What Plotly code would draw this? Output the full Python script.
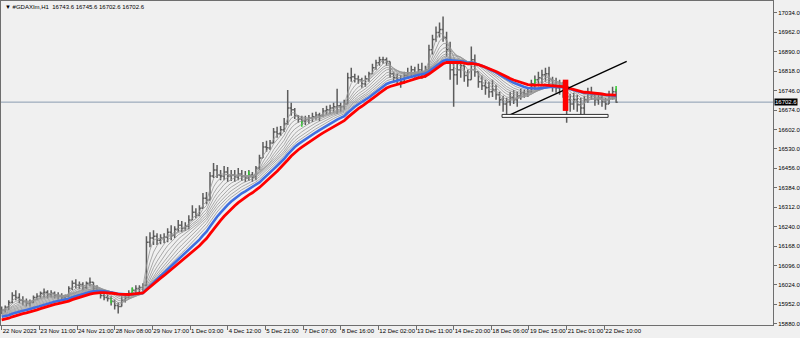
import plotly.graph_objects as go

title_text = "▼ #GDAXIm,H1  16743.6 16745.6 16702.6 16702.6"

# bar positions in H1-bar units (each plotted bar aggregates 3 hourly bars)
bar_index = list(range(0, 523, 3))

high = [
    15944, 15948, 15967, 15997, 16004, 15993, 15982, 15974, 15970, 15985,
    15993, 16000, 16011, 16004, 16004, 16000, 15997, 15993, 15989, 16019,
    16041, 16045, 16037, 16034, 16037, 16052, 16034, 16023, 16004, 15993,
    15989, 15982, 15970, 15959, 15982, 15993, 16004, 16015, 16023, 16023,
    16030, 16205, 16220, 16227, 16216, 16212, 16216, 16235, 16246, 16242,
    16265, 16261, 16257, 16283, 16320, 16309, 16320, 16365, 16369, 16443,
    16477, 16469, 16451, 16466, 16462, 16451, 16451, 16458, 16451, 16447,
    16451, 16443, 16466, 16507, 16555, 16559, 16562, 16607, 16611, 16614,
    16644, 16748, 16700, 16681, 16655, 16652, 16652, 16655, 16663, 16667,
    16663, 16681, 16689, 16693, 16700, 16752, 16700, 16711, 16812, 16830,
    16808, 16801, 16793, 16801, 16815, 16845, 16860, 16871, 16871, 16868,
    16853, 16815, 16808, 16804, 16815, 16830, 16838, 16834, 16845, 16849,
    16838, 16916, 16953, 16983, 16998, 17020, 16964, 16927, 16860, 16860,
    16860, 16842, 16823, 16909, 16879, 16815, 16801, 16786, 16778, 16786,
    16767, 16741, 16726, 16719, 16741, 16748, 16741, 16752, 16748, 16752,
    16786, 16801, 16815, 16823, 16830, 16834, 16797, 16793, 16786, 16778,
    16748, 16734, 16737, 16730, 16719, 16726, 16756, 16760, 16737, 16734,
    16730, 16719, 16745, 16760, 16752,
]
low = [
    15915, 15922, 15930, 15956, 15967, 15956, 15948, 15944, 15944, 15956,
    15967, 15974, 15978, 15974, 15978, 15974, 15970, 15967, 15967, 15978,
    16004, 16011, 16008, 16004, 16008, 16019, 16000, 15993, 15974, 15967,
    15963, 15948, 15933, 15918, 15944, 15959, 15974, 15985, 15993, 15997,
    16000, 16019, 16164, 16172, 16172, 16175, 16179, 16183, 16190, 16198,
    16220, 16220, 16224, 16231, 16265, 16272, 16279, 16309, 16324, 16339,
    16421, 16421, 16413, 16413, 16406, 16410, 16406, 16413, 16410, 16406,
    16410, 16406, 16413, 16451, 16495, 16518, 16525, 16551, 16570, 16577,
    16592, 16618, 16652, 16640, 16626, 16618, 16618, 16622, 16629, 16637,
    16633, 16648, 16655, 16659, 16663, 16659, 16667, 16674, 16696, 16778,
    16775, 16771, 16756, 16760, 16778, 16808, 16823, 16838, 16845, 16838,
    16793, 16775, 16767, 16756, 16771, 16789, 16797, 16793, 16797, 16789,
    16793, 16815, 16879, 16927, 16942, 16927, 16871, 16786, 16685, 16767,
    16793, 16778, 16760, 16786, 16797, 16756, 16748, 16730, 16719, 16722,
    16711, 16689, 16667, 16648, 16689, 16696, 16685, 16711, 16719, 16722,
    16737, 16748, 16763, 16771, 16778, 16767, 16741, 16737, 16730, 16719,
    16626, 16667, 16674, 16667, 16648, 16659, 16700, 16711, 16689, 16693,
    16685, 16674, 16696, 16711, 16700,
]
close = [
    15930, 15941, 15959, 15985, 15978, 15967, 15963, 15956, 15959, 15978,
    15982, 15993, 15997, 15989, 15993, 15985, 15982, 15978, 15982, 16011,
    16030, 16023, 16026, 16015, 16030, 16034, 16011, 16004, 15985, 15978,
    15974, 15963, 15948, 15944, 15967, 15978, 15993, 16004, 16011, 16015,
    16023, 16183, 16198, 16205, 16190, 16198, 16201, 16220, 16209, 16231,
    16246, 16235, 16242, 16265, 16294, 16283, 16309, 16346, 16339, 16428,
    16451, 16432, 16428, 16443, 16428, 16432, 16425, 16436, 16428, 16421,
    16432, 16425, 16458, 16495, 16536, 16533, 16551, 16592, 16585, 16600,
    16622, 16681, 16674, 16652, 16640, 16633, 16637, 16644, 16648, 16655,
    16652, 16670, 16674, 16681, 16685, 16689, 16685, 16696, 16793, 16797,
    16789, 16786, 16771, 16789, 16808, 16830, 16849, 16860, 16860, 16853,
    16808, 16793, 16786, 16778, 16801, 16812, 16823, 16808, 16823, 16815,
    16823, 16897, 16935, 16961, 16972, 16942, 16897, 16823, 16804, 16823,
    16838, 16801, 16786, 16860, 16815, 16778, 16763, 16756, 16741, 16748,
    16730, 16711, 16696, 16704, 16719, 16711, 16726, 16737, 16734, 16741,
    16771, 16786, 16793, 16804, 16808, 16786, 16767, 16756, 16763, 16748,
    16711, 16696, 16711, 16693, 16681, 16711, 16734, 16730, 16711, 16719,
    16704, 16696, 16726, 16741, 16702.6,
]
first_open = 15940
open_ = [first_open] + close[:-1]

# small green bar marks seen on the chart
green_index = [93, 111, 210, 255, 453, 522]
green_price = [15967, 16004, 16436, 16622, 16778, 16752]

# moving-average ribbon (linear weighted, periods in H1 bars); level of the
# history before the first visible bar, read at the left edge of the chart
gray_periods = [10, 18, 26, 34, 42, 50, 58, 66, 74]
gray_seeds = [15933, 15931, 15928, 15925, 15922, 15918, 15915, 15912, 15909]
blue_period, blue_seed = 84, 15904
red_period, red_seed = 100, 15892

date_labels = ["22 Nov 2023", "23 Nov 11:00", "24 Nov 21:00", "28 Nov 08:00",
               "29 Nov 17:00", "1 Dec 03:00", "4 Dec 12:00", "5 Dec 21:00",
               "7 Dec 07:00", "8 Dec 16:00", "12 Dec 02:00", "13 Dec 11:00",
               "14 Dec 20:00", "18 Dec 06:00", "19 Dec 15:00", "21 Dec 01:00",
               "22 Dec 10:00"]
date_label_index = [32 * i for i in range(len(date_labels))]

price_labels = ["15880.0", "15952.0", "16024.0", "16096.0", "16168.0", "16240.0",
                "16312.0", "16384.0", "16456.0", "16530.0", "16602.0", "16674.0",
                "16746.0", "16818.0", "16890.0", "16962.0", "17034.0"]
price_low, price_high = 15880.0, 17034.0

last_price = 16702.6
trend_index = [428.1, 531.0]
trend_price = [16648, 16854]
box_index = [425.1, 515.2]
box_price = [16646, 16657]
red_box_index = [476.7, 481.4]
red_box_price = [16670, 16786]

STEP = 3  # hourly bars per plotted bar


def lwma(values, period, seed):
    out = []
    for t in range(len(values)):
        num = den = 0.0
        age, j = 0, t
        while age < period:
            w = period - age
            v = values[j] if j >= 0 else seed
            num += w * v
            den += w
            age += STEP
            j -= 1
        out.append(num / den)
    return out


price_tickvals = [price_low + i * (price_high - price_low) / (len(price_labels) - 1)
                  for i in range(len(price_labels))]

fig = go.Figure()
fig.add_trace(go.Ohlc(
    x=bar_index, open=open_, high=high, low=low, close=close,
    increasing=dict(line=dict(color="#5c5c5c", width=1.5)),
    decreasing=dict(line=dict(color="#5c5c5c", width=1.5)),
    tickwidth=0.45, hoverinfo="skip",
))
fig.add_trace(go.Scatter(x=green_index, y=green_price, mode="markers",
                         marker=dict(symbol="line-ns", size=4,
                                     line=dict(color="#2ecc2e", width=1.5)),
                         hoverinfo="skip"))
for p, s in zip(gray_periods, gray_seeds):
    fig.add_trace(go.Scatter(x=bar_index, y=lwma(close, p, s), mode="lines",
                             line=dict(color="#959595", width=0.8), hoverinfo="skip"))
fig.add_trace(go.Scatter(x=bar_index, y=lwma(close, blue_period, blue_seed), mode="lines",
                         line=dict(color="#3f6fe0", width=2.6), hoverinfo="skip"))
fig.add_trace(go.Scatter(x=bar_index, y=lwma(close, red_period, red_seed), mode="lines",
                         line=dict(color="#ff0000", width=2.8), hoverinfo="skip"))
fig.add_trace(go.Scatter(x=trend_index, y=trend_price, mode="lines",
                         line=dict(color="#000000", width=1.4), hoverinfo="skip"))

fig.add_shape(type="line", xref="paper", x0=0, x1=1, y0=last_price, y1=last_price,
              line=dict(color="#8a9bb0", width=1), layer="below")
fig.add_shape(type="rect", x0=box_index[0], x1=box_index[1], y0=box_price[0], y1=box_price[1],
              line=dict(color="#303030", width=1), fillcolor="#ffffff", layer="above")
fig.add_shape(type="rect", x0=red_box_index[0], x1=red_box_index[1],
              y0=red_box_price[0], y1=red_box_price[1],
              line=dict(color="#ff0000", width=0), fillcolor="#ff0000", layer="above")

fig.add_annotation(xref="paper", yref="paper", x=0, y=1, xanchor="left", yanchor="top",
                   xshift=2, yshift=-1, text=title_text, showarrow=False,
                   font=dict(size=6, color="#000000", family="Liberation Sans"))
fig.add_annotation(xref="paper", yref="y", x=1, y=last_price, xanchor="left", yanchor="middle",
                   xshift=1, text=f"{last_price:.1f}", showarrow=False, bgcolor="#000000",
                   borderpad=0, font=dict(size=6, color="#ffffff", family="Liberation Sans"))

fig.update_layout(
    width=800, height=338,
    margin=dict(l=1, r=27, t=1, b=13, autoexpand=False),
    paper_bgcolor="#f0f0f0", plot_bgcolor="#f0f0f0",
    showlegend=False,
    font=dict(family="Liberation Sans", size=6, color="#000000"),
    xaxis=dict(range=[-0.57, 655.3], showgrid=False, zeroline=False,
               showline=True, linecolor="#6e6e6e", linewidth=1, mirror=True,
               ticks="outside", ticklen=4, tickcolor="#6e6e6e",
               tickvals=date_label_index, ticktext=date_labels,
               ticklabelposition="outside right", tickangle=0, automargin=False,
               tickfont=dict(size=6, color="#000000"),
               rangeslider=dict(visible=False), fixedrange=True),
    yaxis=dict(range=[15875.5, 17077.9], side="right", showgrid=False, zeroline=False,
               showline=True, linecolor="#6e6e6e", linewidth=1, mirror=True,
               ticks="outside", ticklen=3, tickcolor="#6e6e6e", automargin=False,
               tickvals=price_tickvals, ticktext=price_labels,
               tickfont=dict(size=6, color="#000000"), fixedrange=True),
)

fig.write_html("out.html")
